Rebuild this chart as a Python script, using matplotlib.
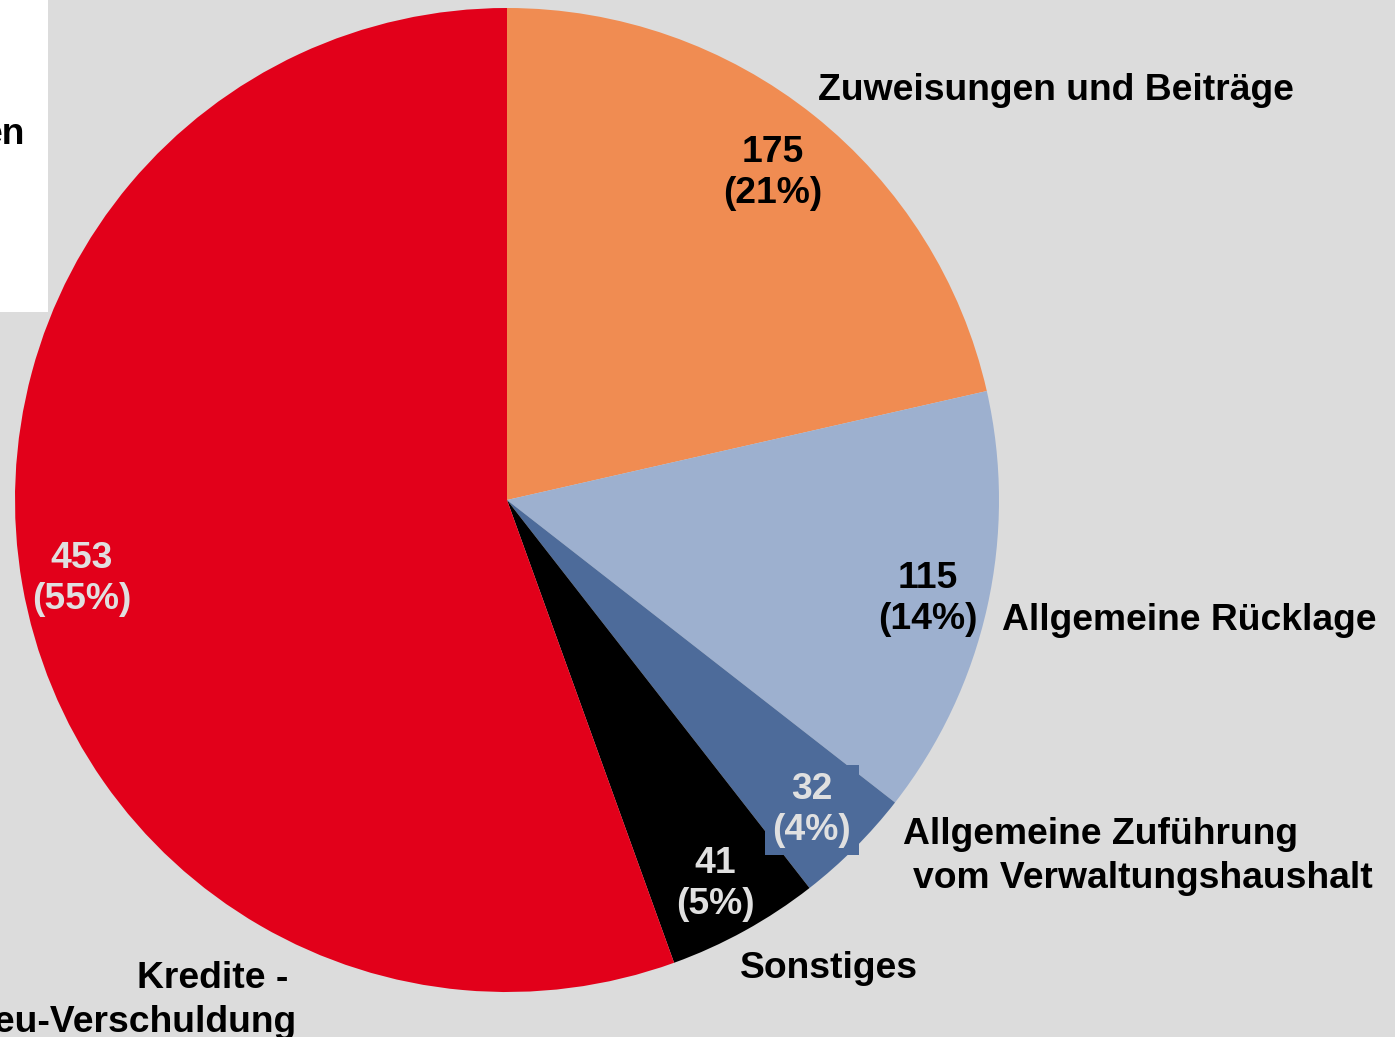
import matplotlib.pyplot as plt

plt.rcParams['font.family'] = ['Liberation Sans', 'DejaVu Sans']

# data
categories = ['Zuweisungen und Beiträge', 'Allgemeine Rücklage',
              'Allgemeine Zuführung vom Verwaltungshaushalt', 'Sonstiges',
              'Kredite - Neu-Verschuldung']
values = [175, 115, 32, 41, 453]
percents = [21, 14, 4, 5, 55]
colors = ['#f08c52', '#9db0cf', '#4d6b9a', '#000000', '#e2001a']
value_colors = ['black', 'black', '#e0e0e0', '#e0e0e0', '#e0e0e0']

W, H = 1395, 1037
FS = 26.8
fig = plt.figure(figsize=(W / 100, H / 100), dpi=100)
fig.patch.set_facecolor('#dcdcdc')
ax = fig.add_axes([0, 0, 1, 1])


def Y(py):
    # pixel row (from top) -> data y; +3 corrects for text centring
    return H - py - 3


# white box at the top left (cut off legend)
ax.add_patch(plt.Rectangle((0, H - 312), 48, 312, facecolor='white', edgecolor='none'))
ax.text(25, Y(131), 'en', ha='right', va='center', fontsize=FS, fontweight='bold')

wedges, _ = ax.pie(values, colors=colors, startangle=90, counterclock=False,
                   center=(507, H - 500), radius=492, frame=True)
ax.set_xlim(0, W)
ax.set_ylim(0, H)
ax.set_aspect('equal')
ax.axis('off')

value_pos = [(773, 170), (928, 596), (812, 807), (715, 881), (82, 576)]
for v, p, (px, py), c, wc in zip(values, percents, value_pos, value_colors, colors):
    txt = f'{v}\n({p}%)'
    kw = {}
    if v == 32:
        kw['bbox'] = dict(boxstyle='square,pad=0.2', facecolor=wc, edgecolor='none')
    ax.text(px, Y(py), txt, ha='center', va='center', fontsize=FS,
            fontweight='bold', color=c, linespacing=1.2, **kw)

lab = dict(fontsize=FS, fontweight='bold', color='black', va='center')
ax.text(818, Y(88), 'Zuweisungen und Beiträge', ha='left', **lab)
ax.text(1002, Y(617), 'Allgemeine Rücklage', ha='left', **lab)
ax.text(903, Y(831), 'Allgemeine Zuführung', ha='left', **lab)
ax.text(913, Y(876), 'vom Verwaltungshaushalt', ha='left', **lab)
ax.text(740, Y(965), 'Sonstiges', ha='left', **lab)
ax.text(288, Y(975), 'Kredite -', ha='right', **lab)
ax.text(297, Y(1019), 'Neu-Verschuldung', ha='right', **lab)

fig.savefig('out.png', dpi=100, facecolor=fig.get_facecolor())
